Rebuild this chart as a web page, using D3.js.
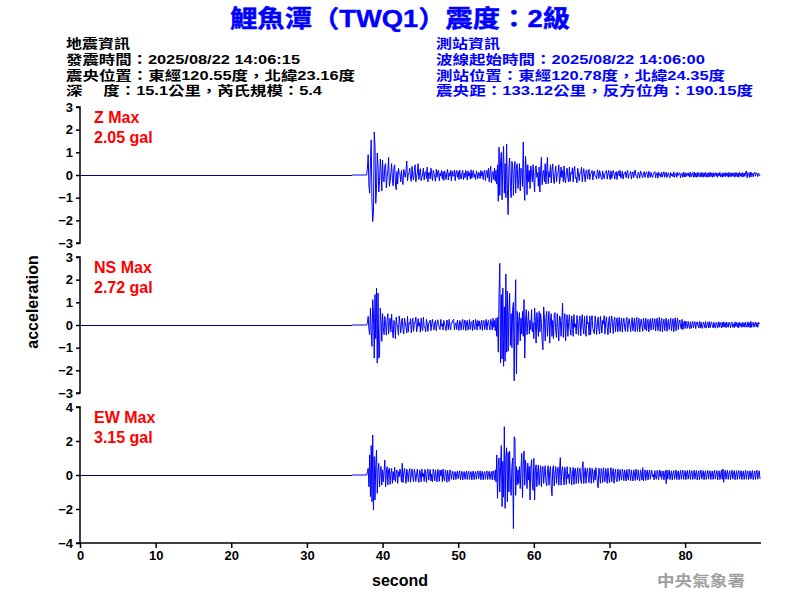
<!DOCTYPE html>
<html>
<head>
<meta charset="utf-8">
<script src="https://cdn.jsdelivr.net/npm/d3@7"></script>
<style>
  html, body { margin: 0; padding: 0; background: #fff; }
  svg { display: block; }
  text { white-space: pre; }
</style>
</head>
<body>
<svg id="chart" width="800" height="600"></svg>
<script>
// ---------------- DATA ----------------
const titleText = "鯉魚潭（TWQ1）震度：2級";
const quakeInfo = [
  "地震資訊",
  "發震時間：2025/08/22 14:06:15",
  "震央位置：東經120.55度，北緯23.16度",
  "深\u3000 度：15.1公里，芮氏規模：5.4"
];
const stationInfo = [
  "測站資訊",
  "波線起始時間：2025/08/22 14:06:00",
  "測站位置：東經120.78度，北緯24.35度",
  "震央距：133.12公里，反方位角：190.15度"
];
const channels = ["Z", "NS", "EW"];
const maxLabels = ["2.05 gal", "2.72 gal", "3.15 gal"];
const yLimits = [3, 3, 4];
const yTicksZ = [-3, -2, -1, 0, 1, 2, 3];
const yTicksNS = [-3, -2, -1, 0, 1, 2, 3];
const yTicksEW = [-4, -2, 0, 2, 4];
const xTicks = [0, 10, 20, 30, 40, 50, 60, 70, 80];
const xDomain = [0, 89.9];
const onsetTime = 38.0;     // seconds, first sample after the flat pre-event part
const sampleStep = 0.1;     // seconds between samples below

// each row = 2 s of samples
const valuesZ = [
  0.3,0.9,-0.5,-0.8,0.6,1.55,-1.2,-2.05,-1.6,1.9,1.3,-1.25,-0.6,0.97,0.4,-0.75,-0.3,0.7,0.2,-0.7,
  0.65,-0.2,-0.3,0.4,0.5,-0.57,-0.1,0.2,0.78,-0.5,-0.3,0.1,0.5,-0.2,-0.48,0.3,0.45,-0.35,-0.65,0.15,
  -0.4,0.3,0.1,0.05,-0.3,0.2,-0.2,-0.42,0.25,0.1,-0.1,0.2,0.62,-0.25,0.05,0.1,0.3,-0.15,-0.28,0.38,
  -0.05,-0.22,0.2,0.45,-0.3,-0.1,0.12,0.5,-0.2,0.1,0.28,-0.25,-0.1,0.05,0.3,-0.22,0.1,0.15,-0.15,0.35,
  -0.3,0.1,0.1,-0.18,0.3,0.05,-0.25,0.2,0.05,-0.1,-0.28,0.25,-0.1,0.15,0.22,-0.25,0.08,-0.05,0.2,-0.18,
  0.15,-0.24,0.18,0.02,-0.2,0.1,0.25,-0.22,0.1,-0.05,0.2,-0.26,0.18,-0.05,-0.05,0.22,-0.25,0.1,0.2,-0.1,
  0.15,-0.2,0.22,-0.05,-0.18,0.1,0.2,-0.2,0.08,-0.12,0.2,0.05,-0.22,0.18,-0.05,0.1,-0.18,0.23,-0.15,0.05,
  0.2,-0.1,0.04,-0.2,0.18,0.05,-0.16,0.12,0.08,-0.15,0.2,-0.05,0.15,-0.2,0.1,0.22,-0.25,0.1,0.2,-0.12,
  0.3,-0.3,0.1,0.38,-0.35,0.05,0.15,-0.2,0.3,-0.28,0.2,-0.4,0.45,-1.16,1.22,-0.9,0.6,1.0,-1.09,0.4,
  1.26,-0.8,0.5,-1.0,1.37,-0.6,-1.75,0.3,0.75,-0.5,-1.0,0.6,0.4,-0.9,0.2,0.6,-0.8,0.3,0.5,-0.6,
  -0.2,0.5,-0.7,0.3,0.2,-0.5,1.46,-0.4,-1.12,0.82,0.3,-0.87,0.45,-0.3,0.2,-0.6,0.4,0.1,-0.3,0.46,
  -0.2,-0.75,0.3,0.4,-0.1,0.1,-0.5,0.35,-0.75,0.2,0.78,-0.43,0.1,0.2,-0.3,0.5,-0.4,0.2,0.78,-0.38,
  0.15,-0.1,0.45,-0.35,0.2,0.49,-0.2,-0.38,0.1,0.4,-0.3,0.05,0.1,0.45,-0.38,-0.1,0.35,-0.1,0.2,-0.3,
  0.4,-0.2,-0.35,0.15,0.3,-0.1,-0.3,0.35,-0.28,0.1,0.05,0.32,-0.3,0.2,0.38,-0.15,-0.1,-0.35,0.3,0.05,
  -0.25,0.1,0.1,0.35,-0.3,0.05,0.28,-0.05,-0.3,0.2,0.22,-0.18,0.1,0.25,-0.2,0.05,0.08,0.2,-0.22,0.1,
  0.18,-0.05,-0.05,-0.18,0.23,0.1,-0.15,0.2,0.04,-0.1,-0.2,0.18,-0.05,-0.16,0.08,0.12,0.2,-0.18,0.05,0.2,
  -0.05,-0.2,0.18,-0.15,0.05,0.2,0.02,-0.18,0.1,0.15,-0.2,0.1,0.18,-0.05,0.2,-0.14,-0.05,0.17,-0.18,0.05,
  0.05,0.15,-0.12,0.1,0.2,-0.15,0.02,0.05,0.16,-0.18,0.05,0.14,-0.12,0.1,0.22,-0.05,-0.05,-0.15,0.12,0.05,
  -0.14,0.18,0.1,-0.05,-0.12,0.1,0.15,-0.1,0.05,0.14,0.02,-0.13,0.16,0.05,-0.1,0.12,-0.05,-0.11,0.04,0.1,
  0.15,-0.12,0.05,0.1,-0.14,0.13,-0.02,0.05,-0.1,0.12,-0.09,0.05,0.14,-0.1,0.05,0.12,-0.11,0.02,0.1,-0.05,
  -0.12,0.11,-0.03,0.05,-0.08,0.14,-0.1,0.02,0.09,-0.1,0.12,-0.02,0.08,0.1,-0.12,0.05,0.08,-0.1,0.13,-0.09,
  0.1,-0.08,0.05,0.09,-0.05,0.1,-0.1,0.12,-0.08,0.04,0.1,-0.1,0.13,-0.09,0.08,-0.1,0.11,-0.08,0.1,-0.02,
  -0.09,0.12,-0.08,0.09,-0.1,0.1,-0.07,0.11,-0.09,0.08,-0.1,0.1,-0.08,0.12,-0.07,0.09,-0.1,0.1,-0.08,0.05,
  0.1,-0.06,0.09,-0.1,0.08,-0.04,0.12,-0.08,0.05,-0.1,0.1,-0.06,0.09,-0.08,0.11,-0.05,0.08,-0.1,0.12,-0.07,
  0.09,-0.08,0.1,-0.05,0.08,-0.1,0.11,-0.07,0.1,-0.08,0.09,-0.1,0.12,-0.05,0.08,-0.09,0.1,-0.08,0.09,-0.06,
  0.12,0.18,-0.12,0.1,0.08,-0.1,0.13,-0.09,0.1,0.05,-0.08,0.09,0.12,-0.05,0.1,0.06,-0.07,0.09,0.02,-0.05
];
const valuesNS = [
  0.1,0.38,-0.2,-0.43,0.75,-0.3,-0.94,1.12,0.5,-1.46,1.34,-0.6,1.63,-1.68,1.41,-1.46,-1.38,0.75,0.2,-0.72,
  0.5,-0.1,-0.43,0.38,0.1,-0.45,0.2,0.5,-0.4,0.1,0.3,-0.3,0.48,-0.2,-0.57,0.2,0.1,-0.6,0.35,0.05,
  -0.1,-0.45,0.4,0.1,-0.35,0.1,0.3,-0.2,-0.4,0.3,0.1,-0.1,-0.35,0.38,-0.3,0.1,0.05,0.28,-0.35,0.05,
  0.3,-0.28,0.1,0.1,0.35,-0.3,-0.1,0.28,-0.05,0.1,-0.32,0.3,-0.1,-0.25,0.35,-0.1,-0.1,-0.3,0.25,0.05,
  -0.28,0.1,0.1,0.22,-0.25,0.05,0.25,-0.05,-0.22,0.1,0.2,-0.25,0.05,0.23,0.02,-0.1,-0.2,0.25,-0.05,0.05,
  -0.22,0.2,0.05,-0.08,-0.25,0.22,0.1,-0.2,0.25,-0.05,-0.22,0.1,0.1,0.2,0.25,-0.22,0.05,0.1,-0.2,0.22,
  -0.05,-0.24,0.2,0.1,-0.22,0.15,0.25,-0.2,0.05,0.22,-0.25,0.1,0.2,-0.22,-0.05,0.24,-0.2,0.1,0.15,-0.25,
  0.22,-0.1,-0.2,0.25,0.05,-0.22,0.2,-0.05,0.18,-0.2,0.05,0.22,-0.24,0.1,0.2,-0.2,0.05,0.25,-0.22,0.1,
  0.2,-0.05,-0.22,0.25,0.1,-0.22,0.3,-0.1,0.2,-0.25,0.3,-0.5,0.34,-1.2,1.34,2.72,-1.68,1.34,-1.5,1.63,
  -1.82,0.8,-1.6,2.25,-1.2,1.49,-1.16,0.6,1.4,-0.9,0.5,-1.0,0.7,1.0,-2.46,0.4,2.0,-2.16,0.6,-0.87,
  0.2,0.55,-0.7,0.3,-0.4,0.6,-0.5,1.12,-1.46,0.2,0.68,-0.43,0.1,0.6,-0.4,0.2,-0.2,0.68,-0.3,0.1,
  -0.6,0.75,0.2,-0.8,0.55,0.1,-0.5,0.6,-0.3,0.5,0.1,-0.7,-1.09,0.8,0.3,-0.7,0.3,0.6,-0.5,0.1,
  0.6,-0.8,0.2,0.5,-0.5,0.2,-0.6,0.5,0.55,-0.3,-0.55,0.5,-0.1,-0.7,0.4,0.3,-0.5,0.2,0.97,-0.55,
  0.2,0.5,-0.7,0.1,0.45,-0.5,0.1,0.46,-0.2,-0.45,0.4,0.1,-0.5,0.46,-0.1,0.05,-0.4,0.42,0.1,-0.45,
  0.2,0.4,-0.48,0.1,0.46,-0.1,-0.4,0.38,-0.2,-0.5,0.42,0.05,0.1,-0.45,0.4,-0.43,0.2,0.41,-0.15,-0.3,
  -0.38,0.4,0.1,-0.42,0.1,0.35,-0.2,-0.4,0.38,0.05,-0.35,0.2,0.05,0.41,-0.4,0.1,0.36,-0.1,-0.43,0.2,
  0.38,-0.35,0.1,0.4,0.05,-0.38,0.2,0.34,-0.3,0.1,0.32,-0.3,0.1,0.34,-0.28,0.05,0.3,-0.32,0.1,0.3,
  -0.1,-0.28,0.2,0.34,-0.3,0.05,0.28,0.02,-0.3,0.1,0.32,-0.26,0.05,0.3,-0.3,0.1,0.34,-0.28,0.1,0.3,
  -0.3,0.05,0.26,-0.05,-0.28,0.3,0.05,-0.2,0.3,-0.26,0.1,0.25,-0.3,0.05,0.28,-0.22,0.1,0.3,-0.2,0.05,
  0.28,-0.26,0.1,0.3,-0.25,0.05,0.34,-0.28,0.1,0.3,-0.3,0.05,0.26,-0.25,0.1,0.3,-0.28,0.05,0.25,-0.2,
  0.1,0.3,-0.26,0.05,0.28,-0.3,0.1,0.32,-0.25,0.05,0.3,-0.2,0.1,0.22,-0.05,-0.18,0.25,-0.2,0.05,0.18,
  -0.16,0.17,0.02,-0.15,0.16,-0.05,-0.16,0.14,-0.15,0.03,0.16,-0.13,0.05,0.15,-0.16,0.08,0.14,-0.04,-0.12,0.16,
  -0.14,0.12,-0.1,-0.15,0.13,0.05,-0.12,0.16,-0.14,0.02,0.12,-0.13,0.15,-0.12,0.05,0.14,-0.03,-0.13,0.12,-0.05,
  -0.14,0.11,0.03,-0.12,0.14,-0.1,0.12,0.05,-0.13,0.12,-0.1,0.14,-0.08,0.1,-0.12,0.13,-0.05,-0.1,0.12,0.04,
  -0.12,0.1,0.13,-0.1,0.05,-0.12,0.14,-0.06,0.11,-0.1,0.1,-0.12,0.13,-0.05,0.08,-0.11,0.12,-0.08,0.1,-0.1,
  0.12,-0.05,-0.1,0.14,-0.08,0.1,-0.12,0.16,-0.1,0.08,0.12,-0.1,0.05,0.13,-0.08,0.1,-0.1,0.12,0.05,0.08
];
const valuesEW = [
  0.2,0.39,-0.69,1.18,-1.27,1.73,-1.57,2.35,-2.06,1.08,-1.47,0.6,1.47,-1.08,0.3,0.69,-0.69,0.2,0.5,-0.6,
  0.3,-0.4,0.2,0.88,-0.69,0.1,0.49,-0.59,0.3,0.4,-0.55,0.1,0.39,-0.49,0.2,-0.3,0.45,-0.4,0.1,0.3,
  -0.49,0.2,-0.1,0.35,0.1,-0.4,0.69,-0.45,0.1,0.39,-0.05,-0.49,0.35,0.1,-0.4,0.2,0.38,-0.43,0.1,0.35,
  -0.15,-0.4,0.33,0.1,-0.38,0.05,0.35,-0.2,-0.43,0.3,0.1,-0.4,0.35,-0.1,0.1,-0.38,0.33,0.05,-0.43,0.2,
  0.35,-0.3,0.1,0.32,-0.35,0.05,-0.4,0.35,0.1,-0.35,0.3,-0.1,-0.4,0.33,0.1,-0.38,0.3,-0.05,0.28,-0.4,
  0.35,-0.2,-0.35,0.3,0.1,-0.43,0.28,-0.1,-0.38,0.3,0.24,-0.25,0.1,0.22,-0.29,0.05,0.2,-0.27,0.05,0.24,
  -0.22,0.1,0.25,-0.28,0.02,0.22,-0.29,0.1,0.2,-0.25,0.05,0.24,-0.27,0.1,0.22,-0.26,0.05,0.2,-0.29,0.1,
  0.24,-0.27,0.05,0.2,-0.25,0.1,0.24,-0.22,0.02,0.25,-0.28,0.1,0.22,-0.29,0.05,0.2,-0.25,0.1,0.24,-0.27,
  0.1,0.22,-0.26,0.05,0.2,-0.29,0.24,0.1,-0.3,0.3,-0.4,1.18,-1.37,0.6,1.0,-1.0,0.5,1.73,-1.86,0.8,
  -1.3,2.84,-1.96,1.0,1.6,-1.57,1.33,-1.0,1.4,-0.6,-1.2,0.5,1.0,-3.15,2.25,2.16,-1.2,0.49,-0.59,0.3,
  -0.5,0.49,-0.8,0.3,1.27,-1.33,0.5,1.41,-0.6,0.88,0.1,-0.8,0.7,-0.3,0.5,-1.47,0.4,0.9,-0.5,-0.9,
  0.98,-1.47,0.3,0.6,-0.69,0.2,0.59,-0.6,0.1,0.55,-0.69,0.3,0.5,-0.5,0.2,0.55,-0.4,-0.65,0.3,0.55,
  -0.6,0.2,0.5,-0.69,-1.22,0.4,0.55,-0.65,0.1,0.5,-0.5,0.2,0.45,-0.6,0.3,1.02,-0.6,0.2,0.49,-0.1,
  -0.59,0.45,0.1,-0.55,0.49,-0.2,0.05,-0.5,0.45,0.2,-0.59,0.1,0.45,-0.55,0.3,0.4,-0.5,0.1,0.43,-0.49,
  0.2,0.4,-0.3,-0.5,0.45,0.78,-0.5,0.1,0.43,-0.49,0.2,0.4,-0.15,-0.45,0.43,0.1,-0.49,0.4,0.05,-0.45,
  0.3,-0.3,0.43,0.1,-0.45,-0.75,0.4,0.1,-0.49,0.38,0.2,-0.45,0.43,-0.05,-0.4,0.38,0.1,-0.49,0.4,-0.1,
  -0.45,0.1,0.43,-0.4,0.2,0.38,-0.49,0.02,0.35,-0.3,-0.4,0.35,0.1,-0.35,0.32,-0.05,-0.3,0.35,0.1,-0.33,
  0.3,0.05,-0.35,0.32,-0.1,-0.3,0.35,0.1,-0.33,0.3,-0.05,-0.35,0.3,0.1,-0.32,0.35,0.05,-0.3,0.3,-0.1,
  -0.35,0.3,0.1,-0.29,0.43,-0.35,0.1,0.3,-0.32,0.05,0.29,-0.29,0.1,0.3,-0.25,0.05,0.28,-0.1,0.02,-0.29,
  0.26,-0.1,-0.25,0.27,0.05,-0.28,0.29,-0.1,0.25,-0.26,0.1,0.24,-0.29,0.05,0.27,-0.51,0.29,-0.24,0.1,0.29,
  -0.27,0.05,0.25,-0.29,0.1,0.26,-0.25,0.02,0.29,-0.27,0.1,0.24,-0.28,0.05,0.27,-0.25,0.1,0.29,-0.26,0.05,
  0.25,-0.28,0.1,0.27,-0.24,0.05,0.29,-0.26,0.1,0.25,-0.27,0.02,0.28,-0.24,0.1,0.26,-0.29,0.05,0.25,-0.27,
  0.1,0.29,-0.24,0.05,0.26,-0.28,0.1,0.25,-0.26,0.02,0.27,-0.24,0.1,0.25,-0.27,0.05,0.24,-0.26,0.1,0.28,
  -0.24,0.05,0.26,-0.29,0.1,0.25,-0.27,0.02,0.29,-0.25,0.35,-0.43,0.1,0.28,-0.25,0.05,0.27,-0.26,0.1,0.25,
  -0.27,0.05,0.29,-0.24,0.1,0.26,-0.28,0.02,0.25,-0.26,0.1,0.27,-0.24,0.05,0.25,-0.27,0.1,0.24,-0.26,0.05,
  0.28,-0.25,0.1,0.24,-0.27,0.05,0.25,-0.24,0.1,0.26,-0.27,0.02,0.24,-0.26,0.1,0.28,-0.25,0.05,0.25,-0.24
];
const channelValues = [valuesZ, valuesNS, valuesEW];
const channelTicks = [yTicksZ, yTicksNS, yTicksEW];

// ---------------- DRAW ----------------
const svg = d3.select("#chart");
const fontLatin = "'Liberation Sans', Arial, 'Noto Sans CJK TC', sans-serif";
const left = 80, right = 760;
const panelTops = [107, 257, 407];
const panelH = 136;

const x = d3.scaleLinear().domain(xDomain).range([left, right]);

// Title
svg.append("text")
  .attr("x", 230).attr("y", 27)
  .attr("textLength", 340).attr("lengthAdjust", "spacingAndGlyphs")
  .attr("font-family", fontLatin).attr("font-weight", "bold")
  .attr("font-size", 24).attr("fill", "#0000ff")
  .attr("stroke", "#0000ff").attr("stroke-width", 0.4)
  .text(titleText);

// Header blocks
const baselines = [48, 64, 79.5, 95];
const quakeWidths = [64, 234, 289, 256];
const stationWidths = [64, 269, 289, 317];
quakeInfo.forEach((t, i) => {
  svg.append("text").attr("x", 66).attr("y", baselines[i])
    .attr("textLength", quakeWidths[i]).attr("lengthAdjust", "spacingAndGlyphs")
    .attr("font-family", fontLatin).attr("font-weight", "bold")
    .attr("font-size", 13).attr("fill", "#000").text(t);
});
stationInfo.forEach((t, i) => {
  svg.append("text").attr("x", 436).attr("y", baselines[i])
    .attr("textLength", stationWidths[i]).attr("lengthAdjust", "spacingAndGlyphs")
    .attr("font-family", fontLatin).attr("font-weight", "bold")
    .attr("font-size", 13).attr("fill", "#0000ff").text(t);
});

channels.forEach((ch, k) => {
  const top = panelTops[k];
  const lim = yLimits[k];
  const y = d3.scaleLinear().domain([-lim, lim]).range([top + panelH, top]);
  const g = svg.append("g");

  // y axis
  const yAxis = d3.axisLeft(y).tickValues(channelTicks[k]).tickSize(4).tickPadding(3)
    .tickFormat(d3.format("d"));
  const ga = g.append("g").attr("transform", `translate(${left},0)`).call(yAxis);
  ga.select(".domain").attr("stroke", "#000").attr("stroke-width", 1.5)
    .attr("d", `M-4,${top + panelH}H0V${top}H-4`);
  ga.selectAll(".tick line").attr("stroke", "#000").attr("stroke-width", 1.5);
  ga.selectAll(".tick text").attr("font-family", fontLatin).attr("font-weight", "bold")
    .attr("font-size", 13).attr("fill", "#000");

  // zero baseline (dark)
  g.append("line")
    .attr("x1", x(xDomain[0])).attr("x2", x(onsetTime - 2))
    .attr("y1", Math.round(y(0)) + 0.5).attr("y2", Math.round(y(0)) + 0.5)
    .attr("stroke", "#000080").attr("stroke-width", 1);

  // waveform
  const vals = channelValues[k];
  const pts = [[onsetTime - 2, 0], [onsetTime - sampleStep, 0]];
  vals.forEach((v, i) => pts.push([onsetTime + i * sampleStep, v]));
  g.append("path")
    .attr("d", d3.line().x(d => x(d[0])).y(d => y(d[1]))(pts))
    .attr("fill", "none").attr("stroke", "#0000ff").attr("stroke-width", 1)
    .attr("stroke-linejoin", "miter").attr("stroke-miterlimit", 1.5);

  // labels
  g.append("text").attr("x", 94).attr("y", top + 16)
    .attr("font-family", fontLatin).attr("font-weight", "bold").attr("font-size", 16)
    .attr("fill", "#ff0000").text(ch + " Max");
  g.append("text").attr("x", 94).attr("y", top + 36)
    .attr("font-family", fontLatin).attr("font-weight", "bold").attr("font-size", 16)
    .attr("fill", "#ff0000").text(maxLabels[k]);

  // x axis on bottom panel
  if (k === channels.length - 1) {
    const xAxis = d3.axisBottom(x).tickValues(xTicks).tickSize(5).tickPadding(3)
      .tickFormat(d3.format("d"));
    const gx = g.append("g").attr("transform", `translate(0,${top + panelH})`).call(xAxis);
    gx.select(".domain").attr("stroke", "#000").attr("stroke-width", 1.5)
      .attr("d", `M${left},0H${right + 1}`);
    gx.selectAll(".tick line").attr("stroke", "#000").attr("stroke-width", 1.5);
    gx.selectAll(".tick text").attr("font-family", fontLatin).attr("font-weight", "bold")
      .attr("font-size", 13).attr("fill", "#000");
  }
});

// axis titles
svg.append("text").attr("x", 400).attr("y", 586).attr("text-anchor", "middle")
  .attr("font-family", fontLatin).attr("font-weight", "bold").attr("font-size", 16)
  .attr("fill", "#000").text("second");
svg.append("text").attr("transform", "translate(38,302) rotate(-90)")
  .attr("text-anchor", "middle")
  .attr("font-family", fontLatin).attr("font-weight", "bold").attr("font-size", 16)
  .attr("fill", "#000").text("acceleration");

// watermark
svg.append("text").attr("x", 657).attr("y", 586)
  .attr("textLength", 88).attr("lengthAdjust", "spacingAndGlyphs")
  .attr("font-family", "'Noto Sans CJK TC', sans-serif").attr("font-weight", "bold")
  .attr("font-size", 15).attr("fill", "#a0a0a0").text("中央氣象署");
</script>
</body>
</html>
